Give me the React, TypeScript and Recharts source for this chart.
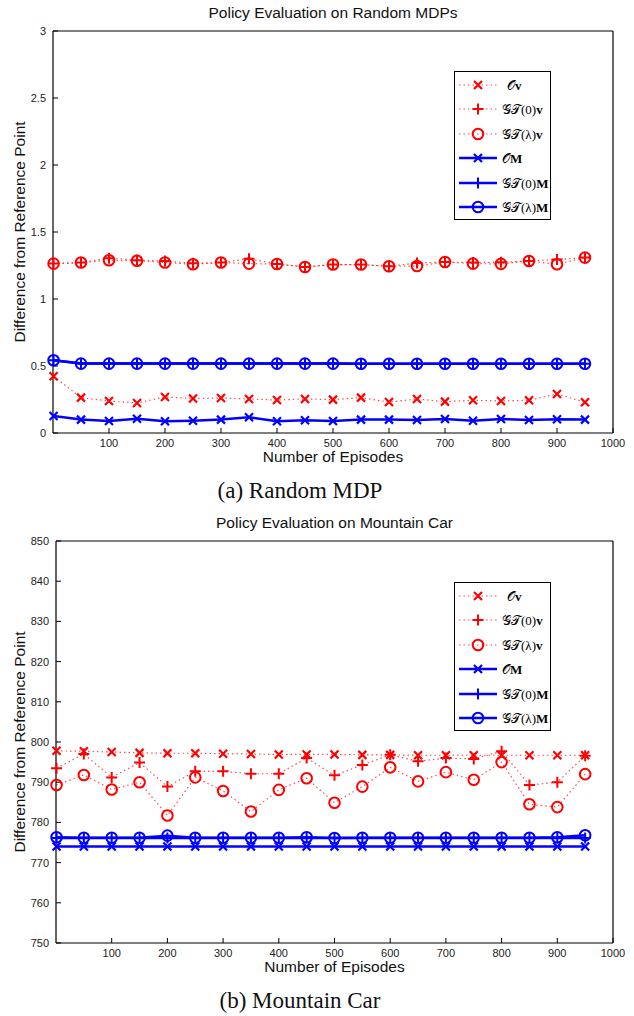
import React from "react";
import { LineChart, Line, XAxis, YAxis } from "recharts";

const episodes = [1, 50, 100, 150, 200, 250, 300, 350, 400, 450, 500, 550, 600, 650, 700, 750, 800, 850, 900, 950];
const xTicks = [100, 200, 300, 400, 500, 600, 700, 800, 900, 1000];

// (a) Random MDP
const mdpOv = [0.423, 0.264, 0.239, 0.224, 0.269, 0.257, 0.261, 0.254, 0.246, 0.254, 0.249, 0.264, 0.231, 0.254, 0.234, 0.244, 0.239, 0.244, 0.291, 0.229];
const mdpGT0v = [1.264, 1.272, 1.305, 1.29, 1.284, 1.266, 1.272, 1.301, 1.261, 1.239, 1.257, 1.257, 1.244, 1.269, 1.276, 1.272, 1.274, 1.284, 1.294, 1.309];
const mdpGTlv = [1.264, 1.272, 1.289, 1.285, 1.272, 1.259, 1.272, 1.264, 1.261, 1.239, 1.257, 1.257, 1.244, 1.246, 1.276, 1.264, 1.262, 1.284, 1.259, 1.309];
const mdpOM = [0.127, 0.1, 0.09, 0.107, 0.087, 0.092, 0.1, 0.117, 0.087, 0.095, 0.09, 0.1, 0.1, 0.097, 0.105, 0.092, 0.105, 0.097, 0.102, 0.1];
const mdpGT0M = [0.543, 0.518, 0.518, 0.518, 0.518, 0.518, 0.518, 0.518, 0.518, 0.518, 0.518, 0.517, 0.517, 0.517, 0.517, 0.517, 0.517, 0.517, 0.517, 0.517];
const mdpGTlM = [0.543, 0.518, 0.518, 0.518, 0.518, 0.518, 0.518, 0.518, 0.518, 0.518, 0.518, 0.517, 0.517, 0.517, 0.517, 0.517, 0.517, 0.517, 0.517, 0.517];
const mdpYTicks = [0, 0.5, 1, 1.5, 2, 2.5, 3];

// (b) Mountain Car
const mcOv = [797.8, 797.7, 797.5, 797.3, 797.2, 797.2, 797.1, 797.0, 796.9, 796.9, 796.9, 796.8, 796.8, 796.7, 796.7, 796.7, 796.7, 796.7, 796.7, 796.7];
const mcGT0v = [793.5, 797.0, 791.2, 794.9, 788.9, 792.7, 792.7, 792.1, 792.1, 796.0, 791.7, 794.3, 796.8, 795.2, 796.0, 795.8, 797.7, 789.3, 790.0, 796.6];
const mcGTlv = [789.3, 791.8, 788.2, 790.0, 781.7, 791.2, 787.8, 782.7, 788.1, 791.0, 784.9, 788.9, 793.7, 790.2, 792.5, 790.6, 795.0, 784.5, 783.8, 792.0];
const mcOM = [774.0, 774.0, 774.0, 774.0, 774.0, 774.0, 774.0, 774.0, 774.0, 774.0, 774.0, 774.0, 774.0, 774.0, 774.0, 774.0, 774.0, 774.0, 774.0, 774.0];
const mcGT0M = [776.1, 776.1, 776.1, 776.1, 776.1, 776.1, 776.1, 776.1, 776.1, 776.1, 776.1, 776.1, 776.1, 776.1, 776.1, 776.1, 776.1, 776.1, 776.1, 776.1];
const mcGTlM = [776.3, 776.2, 776.2, 776.2, 776.7, 776.2, 776.2, 776.2, 776.2, 776.3, 776.1, 776.2, 776.2, 776.2, 776.2, 776.2, 776.2, 776.2, 776.3, 776.8];
const mcYTicks = [750, 760, 770, 780, 790, 800, 810, 820, 830, 840, 850];

const RED = "#ff0000";
const BLUE = "#0000ff";
const SANS = "'Liberation Sans', Arial, Helvetica, sans-serif";
const SERIF = "'Liberation Serif', 'DejaVu Serif', serif";

type Kind = "x" | "+" | "o";

type SeriesDef = { key: string; kind: Kind; color: string; dotted: boolean };

const seriesDefs: SeriesDef[] = [
  { key: "Ov", kind: "x", color: RED, dotted: true },
  { key: "GT0v", kind: "+", color: RED, dotted: true },
  { key: "GTlv", kind: "o", color: RED, dotted: true },
  { key: "OM", kind: "x", color: BLUE, dotted: false },
  { key: "GT0M", kind: "+", color: BLUE, dotted: false },
  { key: "GTlM", kind: "o", color: BLUE, dotted: false },
];

function marker(kind: Kind, cx: number, cy: number, color: string, key?: string | number) {
  if (kind === "x") {
    const s = 4;
    return (
      <path key={key} d={`M${cx - s},${cy - s}L${cx + s},${cy + s}M${cx - s},${cy + s}L${cx + s},${cy - s}`} stroke={color} strokeWidth={2.2} fill="none" />
    );
  }
  if (kind === "+") {
    const s = 5.5;
    return (
      <path key={key} d={`M${cx - s},${cy}L${cx + s},${cy}M${cx},${cy - s}L${cx},${cy + s}`} stroke={color} strokeWidth={2} fill="none" />
    );
  }
  return <circle key={key} cx={cx} cy={cy} r={5.3} stroke={color} strokeWidth={2} fill="none" />;
}

function buildRows(cols: number[][]) {
  return episodes.map((ep, i) => ({
    ep,
    Ov: cols[0][i],
    GT0v: cols[1][i],
    GTlv: cols[2][i],
    OM: cols[3][i],
    GT0M: cols[4][i],
    GTlM: cols[5][i],
  }));
}

function MathLabel({ sym, arg, vec }: { sym: string; arg?: string; vec: string }) {
  return (
    <span style={{ fontFamily: SERIF, fontSize: 13, whiteSpace: "nowrap" }}>
      <span style={{ fontFamily: "'DejaVu Sans', serif", fontStyle: "normal" }}>{sym}</span>
      {arg ? <span>{arg}</span> : null}
      <b>{vec}</b>
    </span>
  );
}

const legendLabels = [
  { sym: "𝒪", arg: "", vec: "v" },
  { sym: "𝒢𝒯", arg: "(0)", vec: "v" },
  { sym: "𝒢𝒯", arg: "(λ)", vec: "v" },
  { sym: "𝒪", arg: "", vec: "M" },
  { sym: "𝒢𝒯", arg: "(0)", vec: "M" },
  { sym: "𝒢𝒯", arg: "(λ)", vec: "M" },
];

function LegendBox({ left, top }: { left: number; top: number }) {
  return (
    <div
      style={{
        position: "absolute",
        left,
        top,
        width: 97,
        height: 149,
        border: "1px solid #000",
        background: "#fff",
        boxSizing: "border-box",
      }}
    >
      {seriesDefs.map((s, i) => (
        <div key={s.key} style={{ position: "absolute", left: 2, top: 3 + i * 24.4, height: 20, display: "flex", alignItems: "center" }}>
          <svg width={42} height={20}>
            <line
              x1={2}
              x2={40}
              y1={10}
              y2={10}
              stroke={s.color}
              strokeWidth={s.dotted ? 1.2 : 2.5}
              strokeDasharray={s.dotted ? "1.5 3" : undefined}
              strokeOpacity={s.dotted ? 0.7 : 1}
            />
            {marker(s.kind, 21, 10, s.color)}
          </svg>
          <span style={{ marginLeft: i === 0 ? 8 : 3 }}>
            <MathLabel sym={legendLabels[i].sym} arg={legendLabels[i].arg} vec={legendLabels[i].vec} />
          </span>
        </div>
      ))}
    </div>
  );
}

type PanelProps = {
  top: number;
  title: string;
  caption: string;
  rows: ReturnType<typeof buildRows>;
  yDomain: [number, number];
  yTicks: number[];
  plotLeft: number;
  legendTop: number;
};

function Panel({ top, title, caption, rows, yDomain, yTicks, plotLeft, legendTop }: PanelProps) {
  const W = 634;
  const H = 470;
  const yAxisWidth = 40;
  const tickStyle = { fontSize: 11, fontFamily: SANS, fill: "#222" };
  return (
    <div style={{ position: "absolute", left: 0, top, width: W, height: 510 }}>
      <div style={{ position: "absolute", left: plotLeft, width: 613 - plotLeft, top: 4, textAlign: "center", fontFamily: SANS, fontSize: 15.5, color: "#111" }}>
        {title}
      </div>
      <LineChart width={W} height={H} data={rows} margin={{ top: 30, right: 20, bottom: 17, left: plotLeft - yAxisWidth }}>
        <XAxis
          dataKey="ep"
          type="number"
          domain={[0, 1000]}
          ticks={xTicks}
          height={20}
          tickSize={-5}
          tickMargin={11}
          tick={tickStyle}
          stroke="#000"
          axisLine={{ stroke: "#000", strokeWidth: 1.2 }}
          tickLine={{ stroke: "#000" }}
        />
        <XAxis
          xAxisId="top"
          orientation="top"
          dataKey="ep"
          type="number"
          domain={[0, 1000]}
          ticks={xTicks}
          height={1}
          tickSize={-5}
          tick={false}
          axisLine={{ stroke: "#000", strokeWidth: 1.2 }}
          tickLine={{ stroke: "#000" }}
        />
        <YAxis
          type="number"
          domain={yDomain}
          ticks={yTicks}
          width={yAxisWidth}
          tickSize={-5}
          tickMargin={12}
          tick={tickStyle}
          axisLine={{ stroke: "#000", strokeWidth: 1.2 }}
          tickLine={{ stroke: "#000" }}
        />
        <YAxis
          yAxisId="right"
          orientation="right"
          type="number"
          domain={yDomain}
          ticks={yTicks}
          width={1}
          tickSize={-5}
          tick={false}
          axisLine={{ stroke: "#000", strokeWidth: 1.2 }}
          tickLine={{ stroke: "#000" }}
        />
        {seriesDefs.map((s) => (
          <Line
            key={s.key}
            dataKey={s.key}
            type="linear"
            stroke={s.color}
            strokeWidth={s.dotted ? 1.2 : 2.5}
            strokeDasharray={s.dotted ? "1.5 3" : undefined}
            strokeOpacity={s.dotted ? 0.7 : 1}
            isAnimationActive={false}
            dot={(p: any) => marker(s.kind, p.cx, p.cy, s.color, `${s.key}-${p.index}`)}
            activeDot={false}
          />
        ))}
      </LineChart>
      <div
        style={{
          position: "absolute",
          left: 20 - 150,
          top: 232 - 10,
          width: 300,
          textAlign: "center",
          transform: "rotate(-90deg)",
          fontFamily: SANS,
          fontSize: 15.5,
          color: "#111",
          lineHeight: "20px",
        }}
      >
        Difference from Reference Point
      </div>
      <div style={{ position: "absolute", left: plotLeft, width: 613 - plotLeft, top: 448, textAlign: "center", fontFamily: SANS, fontSize: 15.5, color: "#111" }}>
        Number of Episodes
      </div>
      <div style={{ position: "absolute", left: 0, width: 600, top: 478, textAlign: "center", fontFamily: SERIF, fontSize: 23, color: "#111" }}>
        {caption}
      </div>
      <LegendBox left={454} top={legendTop} />
    </div>
  );
}

export default function App() {
  const mdpRows = buildRows([mdpOv, mdpGT0v, mdpGTlv, mdpOM, mdpGT0M, mdpGTlM]);
  const mcRows = buildRows([mcOv, mcGT0v, mcGTlv, mcOM, mcGT0M, mcGTlM]);
  return (
    <div style={{ position: "absolute", left: 0, top: 0, width: 634, height: 1016, background: "#fff", overflow: "hidden" }}>
      <Panel top={0} title="Policy Evaluation on Random MDPs" caption="(a) Random MDP" rows={mdpRows} yDomain={[0, 3]} yTicks={mdpYTicks} plotLeft={53} legendTop={71} />
      <Panel top={510} title="Policy Evaluation on Mountain Car" caption="(b) Mountain Car" rows={mcRows} yDomain={[750, 850]} yTicks={mcYTicks} plotLeft={56} legendTop={72} />
    </div>
  );
}
